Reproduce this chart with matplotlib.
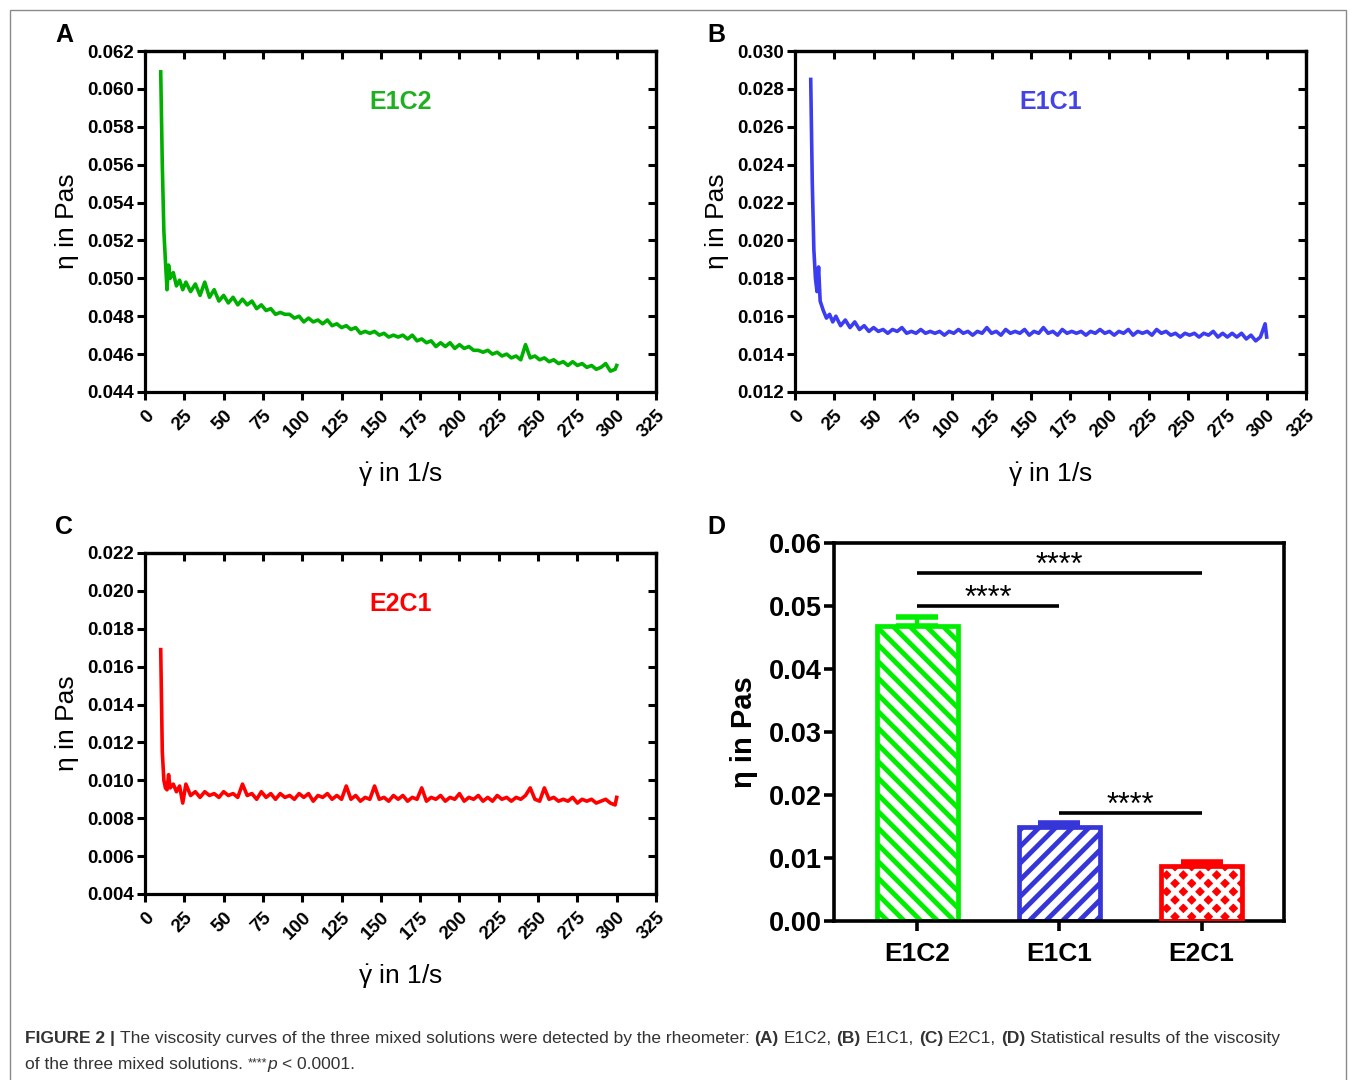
"""Figura 2: curvas de viscosidad de las tres mezclas y comparacion final."""

import matplotlib

matplotlib.use("Agg")
import matplotlib.pyplot as plt  # noqa: E402
from matplotlib.patches import Rectangle  # noqa: E402

plt.rcParams["font.family"] = ["Liberation Sans", "DejaVu Sans"]
plt.rcParams["mathtext.fontset"] = "custom"
plt.rcParams["mathtext.rm"] = "Liberation Sans"
plt.rcParams["mathtext.it"] = "Liberation Sans"
plt.rcParams["hatch.linewidth"] = 3.5

W, H = 1355, 1080

# Tasa de corte (1/s), comun a las tres curvas
SHEAR = [
    10, 11, 12, 13, 14, 15, 16, 18,
    20, 22, 24, 26, 29, 32, 35, 38,
    41, 44, 47, 50, 53, 56, 59, 62,
    65, 68, 71, 74, 77, 80, 83, 86,
    89, 92, 95, 98, 101, 104, 107, 110,
    113, 116, 119, 122, 125, 128, 131, 134,
    137, 140, 143, 146, 149, 152, 155, 158,
    161, 164, 167, 170, 173, 176, 179, 182,
    185, 188, 191, 194, 197, 200, 203, 206,
    209, 212, 215, 218, 221, 224, 227, 230,
    233, 236, 239, 242, 245, 248, 251, 254,
    257, 260, 263, 266, 269, 272, 275, 278,
    281, 284, 287, 290, 293, 296, 299, 300,
]

ETA_E1C2 = [
    0.0609, 0.0560, 0.0525, 0.0509, 0.0494, 0.0507, 0.0500, 0.0503,
    0.0496, 0.0499, 0.0494, 0.0498, 0.0493, 0.0497, 0.0491, 0.0498,
    0.0490, 0.0494, 0.0488, 0.0491, 0.0487, 0.0490, 0.0486, 0.0489,
    0.0486, 0.0488, 0.0484, 0.0486, 0.0483, 0.0484, 0.0481, 0.0482,
    0.0481, 0.0481, 0.0479, 0.0480, 0.0477, 0.0479, 0.0477, 0.0478,
    0.0476, 0.0478, 0.0475, 0.0476, 0.0474, 0.0475, 0.0473, 0.0474,
    0.0471, 0.0472, 0.0471, 0.0472, 0.0470, 0.0471, 0.0469, 0.0470,
    0.0469, 0.0470, 0.0468, 0.0470, 0.0467, 0.0468, 0.0466, 0.0467,
    0.0464, 0.0466, 0.0464, 0.0466, 0.0463, 0.0465, 0.0463, 0.0464,
    0.0462, 0.0462, 0.0461, 0.0462, 0.0460, 0.0461, 0.0459, 0.0460,
    0.0458, 0.0459, 0.0457, 0.0465, 0.0458, 0.0459, 0.0457, 0.0458,
    0.0456, 0.0457, 0.0455, 0.0456, 0.0454, 0.0456, 0.0454, 0.0455,
    0.0453, 0.0454, 0.0452, 0.0453, 0.0455, 0.0451, 0.0452, 0.0454,
]

ETA_E1C1 = [
    0.0285, 0.0230, 0.0195, 0.0180, 0.0173, 0.0186, 0.0168, 0.0163,
    0.0159, 0.0161, 0.0157, 0.0160, 0.0155, 0.0158, 0.0154, 0.0157,
    0.0153, 0.0155, 0.0152, 0.0154, 0.0152, 0.0153, 0.0151, 0.0153,
    0.0152, 0.0154, 0.0151, 0.0152, 0.0151, 0.0153, 0.0151, 0.0152,
    0.0151, 0.0152, 0.0150, 0.0152, 0.0151, 0.0153, 0.0151, 0.0152,
    0.0150, 0.0152, 0.0151, 0.0154, 0.0151, 0.0152, 0.0150, 0.0153,
    0.0151, 0.0152, 0.0151, 0.0153, 0.0150, 0.0152, 0.0151, 0.0154,
    0.0151, 0.0152, 0.0150, 0.0153, 0.0151, 0.0152, 0.0151, 0.0152,
    0.0150, 0.0152, 0.0151, 0.0153, 0.0151, 0.0152, 0.0150, 0.0152,
    0.0151, 0.0153, 0.0150, 0.0152, 0.0151, 0.0152, 0.0150, 0.0153,
    0.0151, 0.0152, 0.0150, 0.0151, 0.0149, 0.0151, 0.0150, 0.0151,
    0.0149, 0.0151, 0.0150, 0.0152, 0.0149, 0.0151, 0.0149, 0.0151,
    0.0149, 0.0151, 0.0148, 0.0150, 0.0147, 0.0149, 0.0156, 0.0149,
]

ETA_E2C1 = [
    0.0169, 0.0115, 0.0100, 0.0096, 0.0095, 0.0103, 0.0096, 0.0098,
    0.0094, 0.0097, 0.0088, 0.0098, 0.0092, 0.0094, 0.0091, 0.0094,
    0.0092, 0.0093, 0.0091, 0.0094, 0.0092, 0.0093, 0.0091, 0.0098,
    0.0092, 0.0093, 0.0090, 0.0094, 0.0091, 0.0093, 0.0090, 0.0093,
    0.0091, 0.0092, 0.0090, 0.0093, 0.0091, 0.0093, 0.0089, 0.0092,
    0.0091, 0.0093, 0.0090, 0.0092, 0.0090, 0.0097, 0.0090, 0.0092,
    0.0089, 0.0091, 0.0090, 0.0097, 0.0090, 0.0091, 0.0089, 0.0092,
    0.0090, 0.0092, 0.0089, 0.0091, 0.0090, 0.0096, 0.0089, 0.0091,
    0.0090, 0.0092, 0.0089, 0.0091, 0.0090, 0.0093, 0.0089, 0.0091,
    0.0090, 0.0092, 0.0089, 0.0091, 0.0089, 0.0092, 0.0090, 0.0091,
    0.0089, 0.0091, 0.0090, 0.0092, 0.0096, 0.0090, 0.0089, 0.0096,
    0.0090, 0.0091, 0.0089, 0.0090, 0.0089, 0.0091, 0.0088, 0.0090,
    0.0089, 0.0090, 0.0088, 0.0089, 0.0090, 0.0088, 0.0087, 0.0091,
]

# Panel D: viscosidad media por mezcla
GROUPS = ["E1C2", "E1C1", "E2C1"]
MEANS = [0.0468, 0.0150, 0.0088]
ERR_UP = [0.0015, 0.0006, 0.0006]
SIG_PAIRS = [(0, 1, 0.0500), (0, 2, 0.0553), (1, 2, 0.0172)]

X_TICKS = [0, 25, 50, 75, 100, 125, 150, 175, 200, 225, 250, 275, 300, 325]
Y_TICKS_A = [0.044, 0.046, 0.048, 0.050, 0.052, 0.054, 0.056, 0.058, 0.060, 0.062]
Y_TICKS_B = [0.012, 0.014, 0.016, 0.018, 0.020, 0.022, 0.024, 0.026, 0.028, 0.030]
Y_TICKS_C = [0.004, 0.006, 0.008, 0.010, 0.012, 0.014, 0.016, 0.018, 0.020, 0.022]
Y_TICKS_D = [0.00, 0.01, 0.02, 0.03, 0.04, 0.05, 0.06]

GREEN_LINE, GREEN_TXT, GREEN_BAR = "#00b000", "#1fb01f", "#00ee00"
BLUE_LINE, BLUE_TXT, BLUE_BAR = "#3c3cf0", "#4343e6", "#3636d8"
RED = "#ff0000"

XLABEL = r"$\dot{\gamma}$ in 1/s"


def px_axes(fig, left, top, right, bottom):
    """Crea un eje a partir de su caja en pixeles (origen arriba a la izquierda)."""
    return fig.add_axes([left / W, 1 - bottom / H, (right - left) / W, (bottom - top) / H])


def curve_panel(ax, eta, color, txt_color, yticks, name):
    ax.plot(SHEAR, eta, color=color, linewidth=2.6, solid_joinstyle="round")
    ax.set_xlim(0, 325)
    ax.set_ylim(yticks[0], yticks[-1])
    ax.set_xticks(X_TICKS, [str(v) for v in X_TICKS], fontweight="bold",
                  fontsize=13.5, rotation=45, ha="right", va="top",
                  rotation_mode="anchor")
    ax.set_yticks(yticks, [f"{v:.3f}" for v in yticks], fontweight="bold",
                  fontsize=13.5)
    for sp in ax.spines.values():
        sp.set_linewidth(2.3)
    ax.tick_params(direction="out", length=6, width=2.2, pad=2)
    ax.tick_params(axis="x", pad=5)
    # ticks interiores arriba y a la derecha
    top = ax.secondary_xaxis("top")
    top.set_xticks(X_TICKS)
    top.tick_params(direction="in", length=6, width=2.2, labeltop=False)
    top.spines["top"].set_linewidth(2.3)
    right = ax.secondary_yaxis("right")
    right.set_yticks(yticks)
    right.tick_params(direction="in", length=6, width=2.2, labelright=False)
    right.spines["right"].set_linewidth(2.3)
    ax.set_ylabel("η in Pas", fontsize=19)
    ax.yaxis.set_label_coords(-0.13, 0.5)
    ax.set_xlabel(XLABEL, fontsize=19)
    ax.xaxis.set_label_coords(0.5, -0.2)
    ax.text(0.5, 0.85, name, transform=ax.transAxes, color=txt_color,
            fontsize=18, fontweight="bold", ha="center", va="center")


def draw_runs(fig, x, y, runs, size, color="#333333"):
    """Escribe una linea con tramos de distinto estilo, uno tras otro."""
    renderer = fig.canvas.get_renderer()
    space = size * 0.278 * 100 / 72
    for text, kw in runs:
        if text.startswith(" "):
            x += space
        t = fig.text(x / W, 1 - y / H, text.strip(), fontsize=kw.get("size", size),
                     color=color, va="baseline", ha="left",
                     **{k: v for k, v in kw.items() if k not in ("size", "rise")})
        if "rise" in kw:
            t.set_y(1 - (y - kw["rise"]) / H)
        x += t.get_window_extent(renderer).width
        if text.endswith(" "):
            x += space


fig = plt.figure(figsize=(W / 100, H / 100), dpi=100)

ax_a = px_axes(fig, 145, 51, 656, 392)
curve_panel(ax_a, ETA_E1C2, GREEN_LINE, GREEN_TXT, Y_TICKS_A, "E1C2")
ax_b = px_axes(fig, 795, 51, 1306, 392)
curve_panel(ax_b, ETA_E1C1, BLUE_LINE, BLUE_TXT, Y_TICKS_B, "E1C1")
ax_c = px_axes(fig, 145, 553, 656, 894)
curve_panel(ax_c, ETA_E2C1, RED, RED, Y_TICKS_C, "E2C1")

# Panel D: barras con tramado
ax_d = px_axes(fig, 834, 543, 1284, 921)
pos = list(range(len(GROUPS)))
ax_d.bar(pos[0], MEANS[0], width=0.57, facecolor="white", edgecolor=GREEN_BAR,
         hatch="\\\\", linewidth=3.4, zorder=2)
ax_d.bar(pos[1], MEANS[1], width=0.57, facecolor="white", edgecolor=BLUE_BAR,
         hatch="//", linewidth=3.4, zorder=2)
ax_d.bar(pos[2], MEANS[2], width=0.57, facecolor=RED, edgecolor="white",
         hatch="xx", linewidth=0, zorder=2)
ax_d.bar(pos[2], MEANS[2], width=0.57, fill=False, edgecolor=RED,
         linewidth=3.4, zorder=3)
for i, c in enumerate([GREEN_BAR, BLUE_BAR, RED]):
    ax_d.errorbar(pos[i], MEANS[i], yerr=[[0], [ERR_UP[i]]], color=c,
                  capsize=15, capthick=4, elinewidth=3, zorder=1)
for a, b, y in SIG_PAIRS:
    ax_d.plot([pos[a], pos[b]], [y, y], color="black", linewidth=2.6,
              solid_capstyle="butt")
    ax_d.text((pos[a] + pos[b]) / 2, y - 0.0002, "****", ha="center",
              va="baseline", fontsize=22)
ax_d.set_xlim(-0.585, 2.58)
ax_d.set_ylim(0, 0.06)
ax_d.set_xticks(pos, GROUPS, fontweight="bold", fontsize=19)
ax_d.set_yticks(Y_TICKS_D, [f"{v:.2f}" for v in Y_TICKS_D], fontweight="bold",
                fontsize=19.5)
for sp in ax_d.spines.values():
    sp.set_linewidth(2.6)
ax_d.tick_params(direction="out", length=7, width=2.6, pad=2)
ax_d.tick_params(axis="x", pad=8)
ax_d.set_ylabel("η in Pas", fontsize=21, fontweight="bold")
ax_d.yaxis.set_label_coords(-0.17, 0.5)

# Letras de los paneles
for letter, (lx, ly) in zip("ABCD", [(64, 35), (716, 35), (64, 527), (716, 527)]):
    fig.text(lx / W, 1 - ly / H, letter, fontsize=18, fontweight="bold",
             ha="center", va="center")

# Marco y leyenda de la figura
fig.add_artist(Rectangle((9.5 / W, -0.02), 1336 / W, 1 - 9.5 / H + 0.02,
                         transform=fig.transFigure, fill=False,
                         edgecolor="#8a8a8a", linewidth=1.0))
BOLD = {"fontweight": "bold"}
NORM = {}
draw_runs(fig, 25, 1043, [
    ("FIGURE 2 | ", BOLD),
    ("The viscosity curves of the three mixed solutions were detected by the rheometer: ", NORM),
    ("(A)", BOLD), (" E1C2, ", NORM), ("(B)", BOLD), (" E1C1, ", NORM),
    ("(C)", BOLD), (" E2C1, ", NORM), ("(D)", BOLD),
    (" Statistical results of the viscosity", NORM),
], 12.5)
draw_runs(fig, 25, 1069, [
    ("of the three mixed solutions. ", NORM),
    ("****", {"size": 9, "rise": 3}),
    ("p", {"fontstyle": "italic"}),
    (" < 0.0001.", NORM),
], 12.5)

fig.savefig("out.png", dpi=100)
